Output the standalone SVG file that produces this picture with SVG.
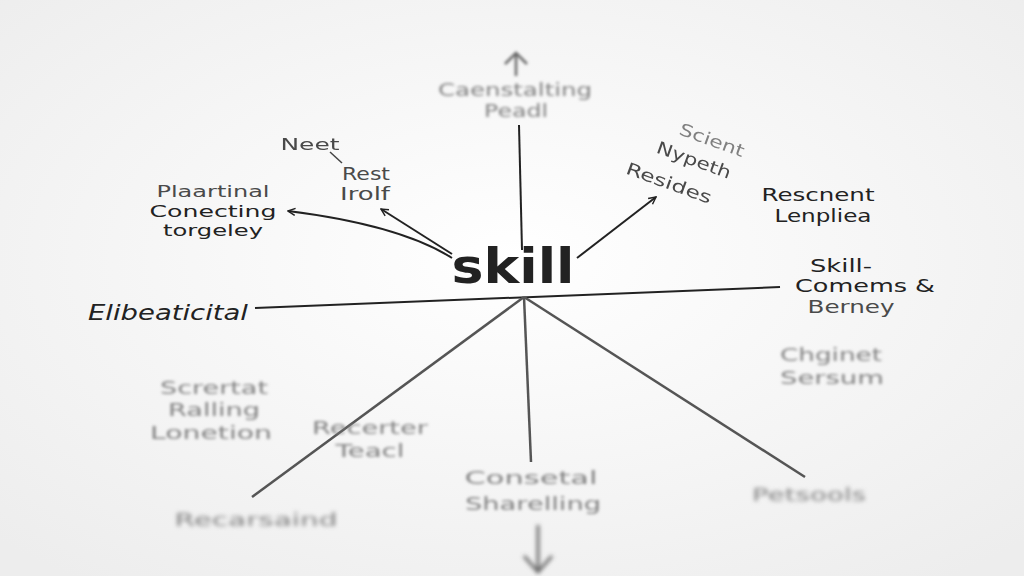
<svg xmlns="http://www.w3.org/2000/svg" width="1024" height="576" viewBox="0 0 1024 576">
<defs>
<radialGradient id="bg" cx="0.5" cy="0.45" r="0.7">
<stop offset="0" stop-color="#ffffff"/>
<stop offset="1" stop-color="#ededed"/>
</radialGradient>
<filter id="b1" x="-20%" y="-50%" width="140%" height="200%"><feGaussianBlur stdDeviation="0.7"/></filter>
<filter id="b2" x="-20%" y="-50%" width="140%" height="200%"><feGaussianBlur stdDeviation="1.4"/></filter>
<filter id="b3" x="-20%" y="-50%" width="140%" height="200%"><feGaussianBlur stdDeviation="2"/></filter>
<marker id="ah" viewBox="0 0 10 10" refX="9" refY="5" markerWidth="9" markerHeight="9" orient="auto-start-reverse" markerUnits="userSpaceOnUse">
<path d="M1,1 L9,5 L1,9" fill="none" stroke="#222" stroke-width="1.6"/>
</marker>
</defs>
<style>
text{font-family:"DejaVu Sans","Open Sans",sans-serif;text-anchor:middle;fill:#222;font-size:17px}
.s{font-size:16px}
.g{fill:#4a4a4a}
.l{fill:#808080}
.ln{stroke:#222;stroke-width:2;fill:none}
.lg{stroke:#555;stroke-width:2.5;fill:none}
</style>
<rect width="1024" height="576" fill="url(#bg)"/>

<g id="connectors">
<line class="ln" x1="519" y1="125" x2="522" y2="250" filter="url(#b1)"/>
<line class="ln" x1="255" y1="308" x2="780" y2="287"/>
<line class="lg" x1="524" y1="297" x2="252" y2="497" filter="url(#b1)"/>
<line class="lg" x1="524" y1="297" x2="531" y2="462" filter="url(#b1)"/>
<line class="lg" x1="524" y1="297" x2="805" y2="477" filter="url(#b1)"/>
<path class="ln" d="M452,258 Q400,225 288,211" marker-end="url(#ah)"/>
<line class="ln" x1="452" y1="254" x2="381" y2="209" stroke-width="2.5" marker-end="url(#ah)"/>
<line class="ln" x1="577" y1="258" x2="656" y2="197" marker-end="url(#ah)"/>
<line x1="330" y1="152" x2="342" y2="163" stroke="#444" stroke-width="1.5"/>
<g filter="url(#b2)" stroke="#666" stroke-width="2.5" fill="none">
<line x1="516" y1="54" x2="516" y2="76"/>
<path d="M505,64 L516,53 L527,64"/>
</g>
<g filter="url(#b3)" stroke="#666" stroke-width="3" fill="none">
<line x1="538" y1="525" x2="538" y2="572"/>
<path d="M524,556 L538,572 L552,556"/>
</g>
</g>

<g id="skill"><text x="513" y="283" style="font-size:48px;font-weight:bold" textLength="123" lengthAdjust="spacingAndGlyphs">skill</text></g>

<g id="top" filter="url(#b2)"><text class="l" x="515" y="96" textLength="154" lengthAdjust="spacingAndGlyphs">Caenstalting</text><text class="l" x="516" y="117" textLength="64" lengthAdjust="spacingAndGlyphs">Peadl</text></g>
<g id="neet" filter="url(#b1)"><text class="g s" x="310" y="150" textLength="59" lengthAdjust="spacingAndGlyphs">Neet</text></g>
<g id="rest"><text class="g" x="366" y="180" textLength="48" lengthAdjust="spacingAndGlyphs">Rest</text><text class="g" x="365" y="200" textLength="50" lengthAdjust="spacingAndGlyphs">Irolf</text></g>
<g id="plaartinal"><text class="g s" x="213" y="197" textLength="113" lengthAdjust="spacingAndGlyphs">Plaartinal</text><text class="s" x="213" y="217" textLength="127" lengthAdjust="spacingAndGlyphs">Conecting</text><text class="s" x="213" y="236" textLength="100" lengthAdjust="spacingAndGlyphs">torgeley</text></g>
<g id="scient" filter="url(#b1)">
<text class="l" x="712" y="146" transform="rotate(20 712 140)" textLength="68" lengthAdjust="spacingAndGlyphs">Scient</text>
<text class="g" x="694" y="166" transform="rotate(20 694 160)" textLength="78" lengthAdjust="spacingAndGlyphs">Nypeth</text>
<text class="g" x="669" y="189" transform="rotate(20 669 183)" textLength="90" lengthAdjust="spacingAndGlyphs">Resides</text>
</g>
<g id="rescnent"><text x="818" y="201" textLength="113" lengthAdjust="spacingAndGlyphs">Rescnent</text><text x="823" y="222" textLength="97" lengthAdjust="spacingAndGlyphs">Lenpliea</text></g>
<g id="elib"><text x="168" y="320" style="font-size:21px;font-style:italic" textLength="160" lengthAdjust="spacingAndGlyphs">Elibeaticital</text></g>
<g id="skillcomems"><text x="841" y="272" textLength="62" lengthAdjust="spacingAndGlyphs">Skill-</text><text x="865" y="292" textLength="140" lengthAdjust="spacingAndGlyphs">Comems &amp;</text><text class="g" x="851" y="313" textLength="87" lengthAdjust="spacingAndGlyphs">Berney</text></g>
<g id="chginet" filter="url(#b2)"><text class="l" x="831" y="361" textLength="102" lengthAdjust="spacingAndGlyphs">Chginet</text><text class="l" x="832" y="384" textLength="104" lengthAdjust="spacingAndGlyphs">Sersum</text></g>
<g id="scrertat" filter="url(#b2)"><text class="l" x="214" y="394" textLength="108" lengthAdjust="spacingAndGlyphs">Scrertat</text><text class="l" x="214" y="416" textLength="92" lengthAdjust="spacingAndGlyphs">Ralling</text><text class="l" x="211" y="439" textLength="122" lengthAdjust="spacingAndGlyphs">Lonetion</text></g>
<g id="recerter" filter="url(#b2)"><text class="l" x="370" y="434" textLength="116" lengthAdjust="spacingAndGlyphs">Recerter</text><text class="l" x="370" y="457" textLength="69" lengthAdjust="spacingAndGlyphs">Teacl</text></g>
<g id="recarsaind" filter="url(#b3)"><text class="l" x="256" y="526" textLength="163" lengthAdjust="spacingAndGlyphs">Recarsaind</text></g>
<g id="consetal" filter="url(#b2)"><text class="l" x="531" y="484" textLength="133" lengthAdjust="spacingAndGlyphs">Consetal</text><text class="l" x="533" y="510" textLength="136" lengthAdjust="spacingAndGlyphs">Sharelling</text></g>
<g id="petsools" filter="url(#b3)"><text class="l" x="809" y="501" textLength="114" lengthAdjust="spacingAndGlyphs">Petsools</text></g>
</svg>
